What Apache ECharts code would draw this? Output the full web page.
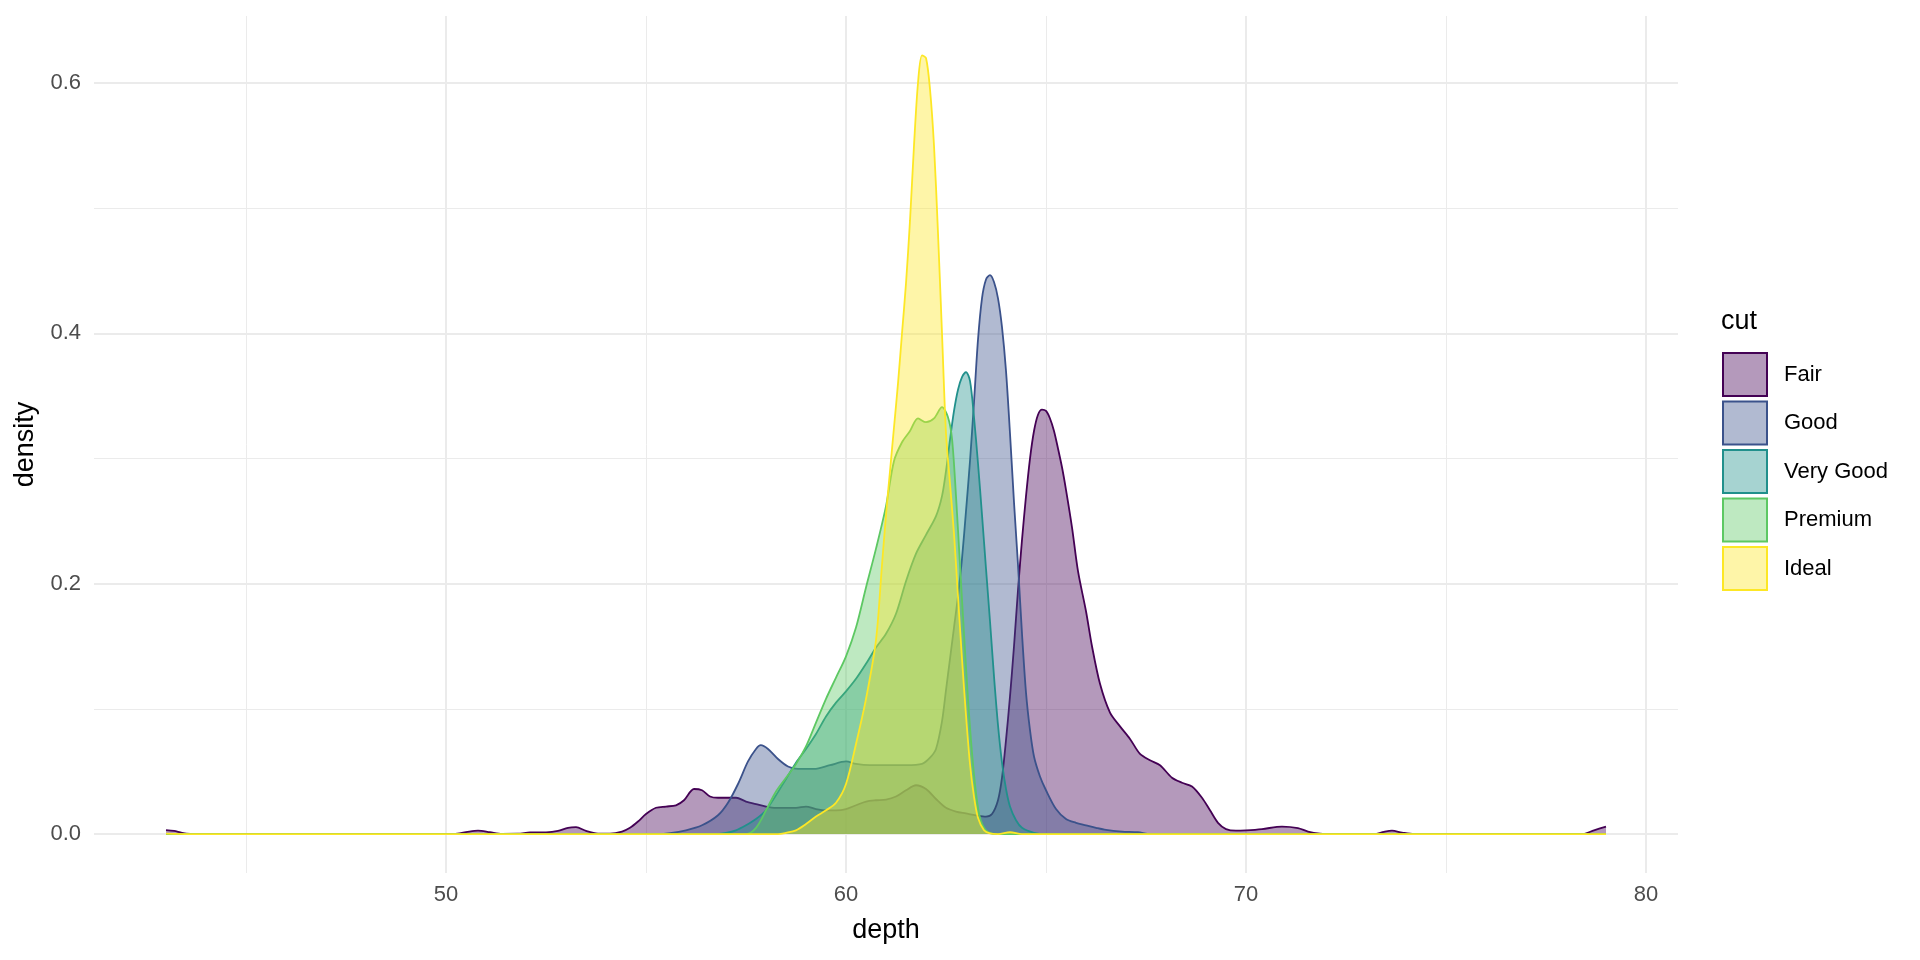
<!DOCTYPE html>
<html><head><meta charset="utf-8">
<script src="https://cdn.jsdelivr.net/npm/echarts@6/dist/echarts.min.js"></script>
<style>html,body{margin:0;padding:0;background:#fff}#c{width:1920px;height:960px}</style>
</head><body><div id="c"></div>
<script>
const cuts = ['Fair', 'Good', 'Very Good', 'Premium', 'Ideal'];
const lineColors = ['#440154', '#3B528B', '#21908C', '#5DC863', '#FDE725'];
const fillColors = ['rgba(68,1,84,0.4)', 'rgba(59,82,139,0.4)', 'rgba(33,144,140,0.4)', 'rgba(93,200,99,0.4)', 'rgba(253,231,37,0.4)'];
const xMajor = [50, 60, 70, 80];
const xMinor = [45, 55, 65, 75];
const yMajor = [0, 0.2, 0.4, 0.6];
const yMinor = [0.1, 0.3, 0.5];

const fair = [[43,0.0032],[43.2,0.0025],[43.4,0.001],[43.6,0.0002],[44,0],[50.2,0],[50.5,0.0015],[50.8,0.0028],[51.1,0.0015],[51.4,0.0002],[51.8,0.0003],[52.1,0.0013],[52.5,0.0014],[52.8,0.0025],[53.05,0.005],[53.25,0.0055],[53.5,0.0025],[53.8,0.0004],[54.1,0.0003],[54.4,0.002],[54.6,0.005],[54.8,0.01],[55,0.016],[55.25,0.021],[55.5,0.022],[55.75,0.023],[55.95,0.027],[56.2,0.036],[56.4,0.035],[56.6,0.03],[56.8,0.029],[57,0.029],[57.25,0.029],[57.5,0.026],[57.75,0.024],[58,0.022],[58.25,0.021],[58.5,0.021],[58.75,0.021],[59,0.022],[59.25,0.02],[59.5,0.019],[59.75,0.019],[60,0.02],[60.25,0.023],[60.5,0.026],[60.75,0.027],[61,0.0275],[61.25,0.03],[61.5,0.035],[61.75,0.039],[62,0.036],[62.25,0.028],[62.5,0.021],[62.75,0.018],[63,0.0165],[63.25,0.015],[63.5,0.014],[63.65,0.016],[63.8,0.027],[63.9,0.045],[64,0.075],[64.1,0.11],[64.2,0.15],[64.3,0.195],[64.4,0.235],[64.5,0.27],[64.6,0.3],[64.7,0.322],[64.8,0.335],[64.9,0.339],[65,0.338],[65.1,0.332],[65.2,0.322],[65.3,0.308],[65.4,0.293],[65.5,0.275],[65.65,0.245],[65.8,0.21],[66,0.178],[66.15,0.15],[66.35,0.12],[66.6,0.097],[66.85,0.086],[67.1,0.076],[67.35,0.064],[67.6,0.059],[67.85,0.055],[68.15,0.045],[68.4,0.041],[68.65,0.038],[68.9,0.029],[69.1,0.019],[69.3,0.009],[69.5,0.004],[69.75,0.0027],[70,0.003],[70.4,0.004],[70.9,0.006],[71.3,0.0048],[71.55,0.002],[71.85,0.0004],[72.2,0],[73.2,0],[73.45,0.0018],[73.65,0.0027],[73.9,0.0012],[74.2,0],[78.4,0],[78.7,0.003],[79,0.006]];

const good = [[43,0],[55.3,0],[55.6,0.0007],[56,0.003],[56.4,0.007],[56.8,0.015],[57.05,0.025],[57.3,0.04],[57.55,0.058],[57.75,0.068],[57.87,0.071],[58.05,0.068],[58.3,0.06],[58.55,0.054],[58.8,0.052],[59.2,0.052],[59.6,0.055],[60,0.058],[60.25,0.056],[60.6,0.055],[61,0.055],[61.5,0.055],[61.9,0.056],[62.1,0.061],[62.25,0.068],[62.4,0.09],[62.5,0.115],[62.6,0.14],[62.7,0.165],[62.8,0.19],[62.9,0.22],[63,0.258],[63.1,0.298],[63.2,0.345],[63.3,0.395],[63.4,0.428],[63.5,0.443],[63.6,0.4465],[63.7,0.441],[63.8,0.428],[63.9,0.405],[64,0.37],[64.1,0.32],[64.2,0.265],[64.3,0.215],[64.4,0.16],[64.5,0.113],[64.6,0.083],[64.7,0.062],[64.85,0.046],[65,0.035],[65.25,0.02],[65.5,0.012],[65.75,0.009],[66,0.007],[66.25,0.005],[66.5,0.0033],[66.9,0.002],[67.3,0.0015],[67.6,0],[79,0]];

const veryGood = [[43,0],[56.7,0],[57,0.001],[57.25,0.003],[57.5,0.007],[57.75,0.012],[58,0.019],[58.25,0.031],[58.5,0.044],[58.75,0.057],[59,0.068],[59.25,0.08],[59.5,0.094],[59.75,0.105],[60,0.114],[60.25,0.124],[60.5,0.136],[60.75,0.149],[61,0.16],[61.25,0.176],[61.5,0.202],[61.75,0.224],[62,0.239],[62.25,0.254],[62.4,0.27],[62.5,0.29],[62.6,0.315],[62.7,0.338],[62.8,0.355],[62.9,0.365],[63,0.369],[63.1,0.362],[63.2,0.333],[63.3,0.296],[63.4,0.255],[63.5,0.212],[63.6,0.17],[63.7,0.126],[63.8,0.087],[63.9,0.057],[64,0.036],[64.1,0.022],[64.25,0.011],[64.4,0.005],[64.7,0.001],[65,0],[79,0]];

const premium = [[43,0],[57.5,0],[57.75,0.005],[58,0.019],[58.25,0.034],[58.5,0.045],[58.75,0.056],[59,0.07],[59.25,0.089],[59.5,0.108],[59.75,0.125],[60,0.142],[60.25,0.165],[60.5,0.197],[60.75,0.228],[61,0.262],[61.2,0.298],[61.4,0.313],[61.6,0.322],[61.8,0.332],[62,0.329],[62.2,0.332],[62.4,0.341],[62.55,0.333],[62.65,0.316],[62.75,0.27],[62.85,0.215],[62.95,0.16],[63.05,0.108],[63.15,0.065],[63.25,0.033],[63.35,0.013],[63.5,0.003],[63.75,0],[79,0]];

const ideal = [[43,0.0003],[43.5,0],[58.3,0],[58.5,0.001],[58.75,0.003],[59,0.008],[59.25,0.014],[59.5,0.019],[59.75,0.025],[60,0.04],[60.25,0.072],[60.5,0.108],[60.75,0.155],[60.9,0.215],[61,0.255],[61.1,0.29],[61.2,0.325],[61.3,0.36],[61.4,0.4],[61.5,0.44],[61.6,0.49],[61.7,0.55],[61.8,0.6],[61.9,0.622],[62,0.62],[62.1,0.595],[62.2,0.55],[62.3,0.48],[62.4,0.4],[62.5,0.32],[62.6,0.28],[62.7,0.24],[62.8,0.19],[62.9,0.14],[63,0.095],[63.1,0.056],[63.2,0.03],[63.3,0.013],[63.45,0.003],[63.6,0.0005],[63.8,0],[64.1,0.0015],[64.4,0],[79,0]];

const seriesData = [fair, good, veryGood, premium, ideal];
const FONT = '"Liberation Sans", Arial, sans-serif';

const gridLines = [];
xMajor.forEach(v => gridLines.push({xAxis: v, lineStyle: {width: 2}}));
xMinor.forEach(v => gridLines.push({xAxis: v, lineStyle: {width: 1}}));
yMajor.forEach(v => gridLines.push({yAxis: v, lineStyle: {width: 2}}));
yMinor.forEach(v => gridLines.push({yAxis: v, lineStyle: {width: 1}}));

const series = [{
  name: '_grid', type: 'line', data: [], silent: true, z: 0,
  markLine: {
    silent: true, z: 0, symbol: ['none', 'none'], animation: false,
    label: {show: false},
    lineStyle: {color: '#EBEBEB', type: 'solid'},
    emphasis: {disabled: true},
    data: gridLines
  }
}];
cuts.forEach((name, i) => {
  series.push({
    name: name, type: 'line', data: seriesData[i],
    smooth: 0.3, symbol: 'none', showSymbol: false, z: 2 + i,
    lineStyle: {color: lineColors[i], width: 1.8},
    itemStyle: {color: lineColors[i]},
    areaStyle: {color: fillColors[i], opacity: 1},
    emphasis: {disabled: true}
  });
});

const chart = echarts.init(document.getElementById('c'), null, {renderer: 'canvas'});
chart.setOption({
  animation: false,
  backgroundColor: '#ffffff',
  textStyle: {fontFamily: FONT},
  title: {
    text: 'cut', left: 1721, top: 308, padding: 0,
    textStyle: {fontFamily: FONT, fontSize: 27, fontWeight: 'normal', color: '#000'}
  },
  legend: {
    orient: 'vertical', left: 1722, top: 352, padding: 0,
    itemWidth: 44, itemHeight: 43, itemGap: 3.5,
    selectedMode: false,
    textStyle: {fontFamily: FONT, fontSize: 22, color: '#000', padding: [0, 0, 0, 12]},
    data: cuts.map((n, i) => ({
      name: n, icon: 'rect',
      itemStyle: {color: fillColors[i], borderColor: lineColors[i], borderWidth: 2, opacity: 1}
    }))
  },
  grid: {left: 94, right: 242, top: 16, bottom: 87, containLabel: false, outerBoundsMode: 'none'},
  xAxis: {
    type: 'value', min: 41.2, max: 80.8,
    name: 'depth', nameLocation: 'middle', nameGap: 44,
    nameTextStyle: {fontFamily: FONT, fontSize: 27, color: '#000'},
    axisLine: {show: false}, axisTick: {show: false, customValues: xMajor},
    splitLine: {show: false},
    axisLabel: {customValues: xMajor, color: '#4D4D4D', fontSize: 22, fontFamily: FONT, margin: 11}
  },
  yAxis: {
    type: 'value', min: -0.0311, max: 0.6535,
    name: 'density', nameLocation: 'middle', nameGap: 54, nameRotate: 90,
    nameTextStyle: {fontFamily: FONT, fontSize: 27, color: '#000'},
    axisLine: {show: false}, axisTick: {show: false, customValues: yMajor},
    splitLine: {show: false},
    axisLabel: {customValues: yMajor, color: '#4D4D4D', fontSize: 22, fontFamily: FONT, margin: 13,
      formatter: v => Number(v).toFixed(1)}
  },
  series: series
});
</script></body></html>
